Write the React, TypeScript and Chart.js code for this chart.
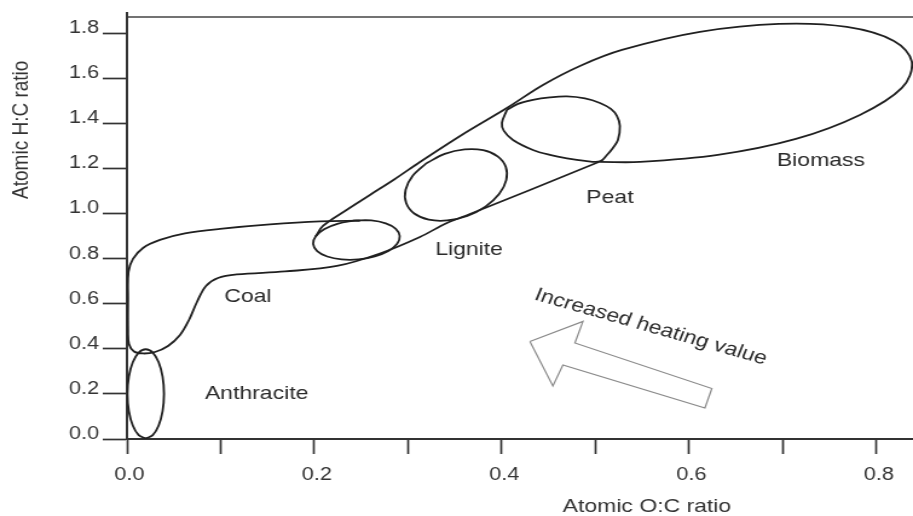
import React, { useEffect, useRef } from 'react';
import { Chart, registerables } from 'chart.js';

Chart.register(...registerables);

// ---------- axis ticks ----------
const xTickValues = [0, 0.2, 0.4, 0.6, 0.8];
const xTickLabels = ['0.0', '0.2', '0.4', '0.6', '0.8'];
const yTickValues = [0, 0.2, 0.4, 0.6, 0.8, 1.0, 1.2, 1.4, 1.6, 1.8];
const yTickLabels = ['0.0', '0.2', '0.4', '0.6', '0.8', '1.0', '1.2', '1.4', '1.6', '1.8'];
const X_MAX = 0.839;
const Y_MAX = 1.871;

// ---------- region outlines (O:C, H:C) ----------
const anthraciteOutline: [number, number][] = [
  [0.02, 0.002], [0.0275, 0.017], [0.0338, 0.06], [0.038, 0.124], [0.0395, 0.2],
  [0.038, 0.276], [0.0338, 0.34], [0.0275, 0.383], [0.02, 0.398], [0.0125, 0.383],
  [0.0062, 0.34], [0.002, 0.276], [0.0005, 0.2], [0.002, 0.124], [0.0062, 0.06],
  [0.0125, 0.017], [0.02, 0.002],
];

const coalOutline: [number, number][] = [
  [0.2487, 0.9676], [0.206, 0.9645], [0.1526, 0.9512], [0.0993, 0.9313], [0.0619, 0.9113],
  [0.0352, 0.8825], [0.0171, 0.847], [0.0064, 0.7982], [0.0016, 0.7406], [0.0011, 0.6164],
  [0.0011, 0.4834], [0.0021, 0.4213], [0.0075, 0.388], [0.0171, 0.3792], [0.0299, 0.3858],
  [0.0438, 0.4124], [0.0566, 0.4612], [0.0662, 0.5277], [0.0747, 0.6075], [0.0843, 0.6785],
  [0.0971, 0.714], [0.1174, 0.7295], [0.1686, 0.7428], [0.2241, 0.7672], [0.27, 0.8226],
  [0.3127, 0.8958], [0.3415, 0.9579], [0.3661, 0.9978], [0.4301, 1.1042], [0.5048, 1.2306],
];

const coalLigniteOverlap: [number, number][] = [
  [0.243, 0.969], [0.2608, 0.969], [0.2762, 0.956], [0.2869, 0.932], [0.2911, 0.9],
  [0.2884, 0.866], [0.279, 0.834], [0.2645, 0.81], [0.2469, 0.796], [0.229, 0.796],
  [0.2137, 0.809], [0.203, 0.833], [0.1987, 0.865], [0.2015, 0.899], [0.2109, 0.931],
  [0.2254, 0.955], [0.243, 0.969],
];

const lignitePeatOverlap: [number, number][] = [
  [0.3196, 1.2226], [0.3391, 1.2639], [0.3604, 1.2838], [0.3802, 1.2803], [0.3956, 1.2532],
  [0.4043, 1.2067], [0.4048, 1.1477], [0.3972, 1.086], [0.3826, 1.0302], [0.3632, 0.9889],
  [0.3418, 0.969], [0.3221, 0.9725], [0.3066, 0.9996], [0.298, 1.0461], [0.2974, 1.1051],
  [0.305, 1.1667], [0.3196, 1.2226],
];

const peatBiomassOverlap: [number, number][] = [
  [0.4055, 1.459], [0.4173, 1.4856], [0.4333, 1.5033], [0.4514, 1.5144], [0.4696, 1.5188],
  [0.4888, 1.51], [0.5048, 1.49], [0.5165, 1.4634], [0.5229, 1.4324], [0.5261, 1.388],
  [0.524, 1.326], [0.5187, 1.2904], [0.5123, 1.2594], [0.5048, 1.2306], [0.4888, 1.2328],
  [0.4696, 1.2439], [0.4514, 1.2594], [0.4333, 1.2816], [0.412, 1.326], [0.4023, 1.3659],
  [0.4002, 1.4013], [0.4055, 1.459],
];

const biomassEnvelope: [number, number][] = [
  [0.2015, 0.899], [0.2092, 0.9446], [0.2327, 1.0111], [0.2593, 1.082], [0.286, 1.153],
  [0.3127, 1.2284], [0.3607, 1.357], [0.4055, 1.4678], [0.444, 1.5698], [0.4835, 1.6541],
  [0.5283, 1.725], [0.6115, 1.8049], [0.6958, 1.8404], [0.7684, 1.827], [0.8186, 1.765],
  [0.8378, 1.6718], [0.8271, 1.5565], [0.7823, 1.4368], [0.714, 1.3304], [0.6307, 1.2594],
  [0.5475, 1.2284], [0.5048, 1.2284],
];

const heatingArrow: [number, number][] = [
  [0.4301, 0.4324], [0.4867, 0.5211], [0.4781, 0.4257], [0.6243, 0.2239], [0.6169, 0.1375],
  [0.4653, 0.3282], [0.4546, 0.235], [0.4301, 0.4324],
];

// ---------- text annotations ----------
const regionNames = ['Anthracite', 'Coal', 'Lignite', 'Peat', 'Biomass'];
const regionLabelX = [0.1384, 0.1291, 0.3652, 0.5155, 0.7407];
const regionLabelY = [0.1996, 0.6297, 0.8404, 1.071, 1.2328];
const arrowText = 'Increased heating value';
const arrowTextAt: [number, number] = [0.5592, 0.4967];
const xTitle = 'Atomic O:C ratio';
const yTitle = 'Atomic H:C ratio';

// ---------- layout ----------
const FULL_W = 913;
const H = 516;
const CW = 755; // drawing width; stretched horizontally to FULL_W like the source figure
const FONT_FAMILY = '"Liberation Sans", Arial, Helvetica, sans-serif';

const toPts = (arr: [number, number][]) => arr.map(([x, y]) => ({ x, y }));

const annotatePlugin = {
  id: 'annotate',
  afterDraw(chart: any) {
    const { ctx, chartArea } = chart;
    const xs = chart.scales.x;
    const ys = chart.scales.y;
    ctx.save();
    // top frame line and small y-axis overshoot
    ctx.strokeStyle = '#444';
    ctx.lineWidth = 1.7;
    ctx.beginPath();
    ctx.moveTo(chartArea.left, chartArea.top);
    ctx.lineTo(chartArea.right, chartArea.top);
    ctx.stroke();
    ctx.strokeStyle = '#333';
    ctx.lineWidth = 2;
    ctx.beginPath();
    ctx.moveTo(chartArea.left, chartArea.top - 5);
    ctx.lineTo(chartArea.left, chartArea.top + 1);
    ctx.stroke();

    ctx.fillStyle = '#2a2a2a';
    ctx.textAlign = 'center';
    ctx.textBaseline = 'middle';
    ctx.font = `19px ${FONT_FAMILY}`;
    regionNames.forEach((t, i) => {
      ctx.fillText(t, xs.getPixelForValue(regionLabelX[i]), ys.getPixelForValue(regionLabelY[i]));
    });

    ctx.save();
    ctx.translate(xs.getPixelForValue(arrowTextAt[0]), ys.getPixelForValue(arrowTextAt[1]));
    ctx.rotate((18.9 * Math.PI) / 180);
    ctx.fillText(arrowText, 0, 0);
    ctx.restore();

    // axis titles
    ctx.fillStyle = '#333';
    ctx.fillText(xTitle, xs.getPixelForValue(0.555), 507);
    ctx.save();
    ctx.translate(18.2, ys.getPixelForValue(1.371));
    ctx.rotate(-Math.PI / 2);
    ctx.fillText(yTitle, 0, 0);
    ctx.restore();
    ctx.restore();
  },
};

export default function App() {
  const canvasRef = useRef<HTMLCanvasElement | null>(null);

  useEffect(() => {
    if (!canvasRef.current) return;
    const curve = (data: [number, number][]) => ({
      data: toPts(data),
      showLine: true,
      borderColor: '#202020',
      borderWidth: 1.8,
      pointRadius: 0,
      tension: 0.35,
      fill: false,
    });

    const chart = new Chart(canvasRef.current, {
      type: 'scatter',
      data: {
        datasets: [
          { label: 'Anthracite', ...curve(anthraciteOutline) },
          { label: 'Coal', ...curve(coalOutline) },
          { label: 'Coal/Lignite', ...curve(coalLigniteOverlap) },
          { label: 'Lignite/Peat', ...curve(lignitePeatOverlap) },
          { label: 'Peat/Biomass', ...curve(peatBiomassOverlap) },
          { label: 'Biomass', ...curve(biomassEnvelope) },
          {
            label: 'Arrow',
            data: toPts(heatingArrow),
            showLine: true,
            borderColor: '#8a8a8a',
            borderWidth: 1.2,
            pointRadius: 0,
            tension: 0,
            fill: false,
          },
        ],
      },
      options: {
        responsive: false,
        animation: false,
        events: [],
        layout: { padding: { top: 17, left: 0, right: 0, bottom: 0 } },
        plugins: { legend: { display: false }, tooltip: { enabled: false } },
        scales: {
          x: {
            type: 'linear',
            min: 0,
            max: X_MAX,
            afterFit: (s: any) => {
              s.height = H - 439;
            },
            border: { display: true, color: '#333', width: 2 },
            grid: {
              display: true,
              drawOnChartArea: false,
              drawTicks: true,
              tickLength: 15,
              tickColor: '#333',
              tickWidth: 1.7,
            },
            ticks: {
              stepSize: 0.1,
              includeBounds: false,
              autoSkip: false,
              maxRotation: 0,
              padding: 10,
              labelOffset: 2,
              color: '#333',
              font: { family: FONT_FAMILY, size: 18 },
              callback: (v: any) => {
                const i = xTickValues.findIndex((t) => Math.abs(t - Number(v)) < 1e-6);
                return i >= 0 ? xTickLabels[i] : '';
              },
            },
          },
          y: {
            type: 'linear',
            min: 0,
            max: Y_MAX,
            afterFit: (s: any) => {
              s.width = 105;
            },
            border: { display: true, color: '#333', width: 2 },
            grid: {
              display: true,
              drawOnChartArea: false,
              drawTicks: true,
              tickLength: 20,
              tickColor: '#333',
              tickWidth: 1.7,
            },
            ticks: {
              stepSize: 0.2,
              includeBounds: false,
              autoSkip: false,
              padding: 3,
              labelOffset: -5,
              color: '#333',
              font: { family: FONT_FAMILY, size: 18 },
              callback: (v: any) => {
                const i = yTickValues.findIndex((t) => Math.abs(t - Number(v)) < 1e-6);
                return i >= 0 ? yTickLabels[i] : '';
              },
            },
          },
        },
      },
      plugins: [annotatePlugin],
    } as any);

    return () => chart.destroy();
  }, []);

  return (
    <div
      style={{
        position: 'fixed',
        left: 0,
        top: 0,
        width: FULL_W,
        height: H,
        overflow: 'hidden',
        background: '#fff',
      }}
    >
      <div
        style={{
          width: CW,
          height: H,
          transform: `scaleX(${FULL_W / CW})`,
          transformOrigin: '0 0',
        }}
      >
        <canvas ref={canvasRef} width={CW} height={H} style={{ display: 'block' }} />
      </div>
    </div>
  );
}
